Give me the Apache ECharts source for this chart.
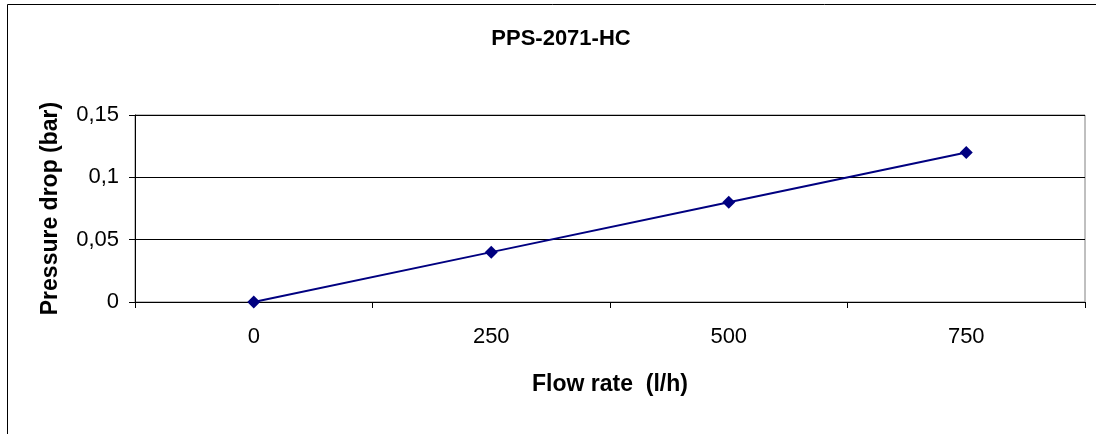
<!DOCTYPE html>
<html>
<head>
<meta charset="utf-8">
<script src="https://cdn.jsdelivr.net/npm/echarts@6/dist/echarts.min.js"></script>
<style>
  html, body { margin: 0; padding: 0; background: #fff; }
  #Chart { width: 1096px; height: 434px; }
</style>
</head>
<body>
<div id="Chart"></div>
<script>
// data
var flowRates = ['0', '250', '500', '750'];
var pressureDrop = [0, 0.04, 0.08, 0.12];
var yTicks = { min: 0, max: 0.15, interval: 0.05 };

var Echarts = echarts.init(document.getElementById('Chart'));
Echarts.setOption({
	backgroundColor: '#fff',
	textStyle: { fontFamily: 'Liberation Sans, Arial, sans-serif' },

	// title
	title: {
		text: 'PPS-2071-HC',
		left: 556,
		textAlign: 'center',
		top: 23,
		textStyle: { color: '#000', fontSize: 22, fontWeight: 'bold' }
	},

	// outer frame of the chart
	graphic: [{
		type: 'rect',
		shape: { x: 7.5, y: 4.5, width: 1200, height: 600 },
		style: { fill: 'none', stroke: '#000', lineWidth: 1 },
		silent: true
	}],

	grid: {
		left: 135, right: 11, top: 115, bottom: 132,
		show: true, borderColor: '#808080', borderWidth: 1, backgroundColor: '#fff'
	},

	xAxis: {
		type: 'category',
		data: flowRates,
		boundaryGap: true,
		name: 'Flow rate  (l/h)',
		nameLocation: 'middle',
		nameGap: 71,
		nameTextStyle: { color: '#000', fontSize: 23, fontWeight: 'bold' },
		axisLine: { lineStyle: { color: '#000', width: 1 } },
		axisTick: { show: true, alignWithLabel: false, length: 6, lineStyle: { color: '#000' } },
		axisLabel: { color: '#000', fontSize: 22, margin: 24 },
		splitLine: { show: false }
	},

	yAxis: {
		type: 'value',
		min: yTicks.min,
		max: yTicks.max,
		interval: yTicks.interval,
		name: 'Pressure drop (bar)',
		nameLocation: 'middle',
		nameRotate: 90,
		nameGap: 73,
		nameTextStyle: { color: '#000', fontSize: 23, fontWeight: 'bold' },
		axisLine: { show: true, lineStyle: { color: '#000', width: 1 } },
		axisTick: { show: true, length: 6, lineStyle: { color: '#000' } },
		axisLabel: {
			color: '#000', fontSize: 22, margin: 16,
			formatter: function (v) { return String(+v.toFixed(2)).replace('.', ','); }
		},
		splitLine: { show: true, lineStyle: { color: '#000', width: 1 } }
	},

	series: [{
		type: 'line',
		data: pressureDrop,
		symbol: 'diamond',
		symbolSize: 13,
		lineStyle: { color: '#000080', width: 2 },
		itemStyle: { color: '#000080' },
		animation: false
	}]
});
</script>
</body>
</html>
